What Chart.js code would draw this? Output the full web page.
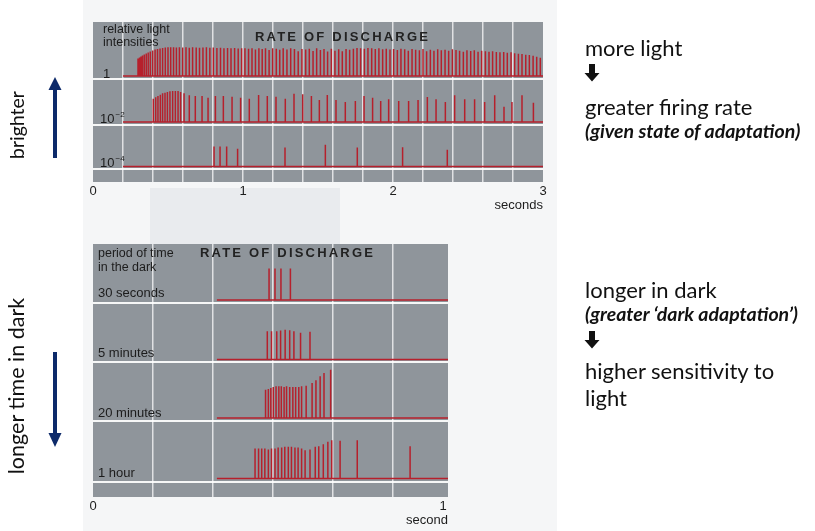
<!DOCTYPE html>
<html>
<head>
<meta charset="utf-8">
<script src="https://cdn.jsdelivr.net/npm/chart.js"></script>
<style>
body { margin: 0; background: #fff; }
#wrap { position: relative; width: 815px; height: 531px; overflow: hidden; font-family: "Liberation Sans", Arial, sans-serif; }
#paper { position: absolute; left: 83px; top: 0; width: 474px; height: 531px; background: #f5f6f7; }
#smudge { position: absolute; left: 150px; top: 188px; width: 190px; height: 56px; background: #e9ebee; }
canvas { position: absolute; left: 0; top: 0; }
.t { position: absolute; white-space: nowrap; line-height: 1; transform: translateY(-50%); color: #1c1c1c; z-index: 5; }
.small { font-size: 12.5px; }
.lvl { font-size: 13px; }
.lvl sup { font-size: 8px; vertical-align: 6px; margin-left: 1px; }
.head { font-size: 13px; font-weight: bold; letter-spacing: 2.2px; color: #222; }
.side { font-family: Lato, "Open Sans", sans-serif; font-size: 22px; color: #111; }
.note { font-family: Lato, "Open Sans", sans-serif; font-size: 19.5px; font-weight: bold; font-style: italic; color: #111; }
.rot { position: absolute; white-space: nowrap; line-height: 1; font-family: Lato, "Open Sans", sans-serif; font-size: 19.5px; color: #111;
       transform: translate(-50%, -50%) rotate(-90deg); z-index: 5; }
svg { position: absolute; z-index: 5; }
</style>
</head>
<body>
<div id="wrap">
  <div id="paper"></div>
  <div id="smudge"></div>
  <canvas id="topChart" width="815" height="531"></canvas>
  <canvas id="bottomChart" width="815" height="531"></canvas>

  <div class="t small" style="left:103px;top:29px">relative light</div>
  <div class="t small" style="left:103px;top:42px">intensities</div>
  <div class="t head" style="left:255px;top:36px">RATE OF DISCHARGE</div>
  <div class="t lvl" style="left:103px;top:73px">1</div>
  <div class="t lvl" style="left:100px;top:118px">10<sup>−2</sup></div>
  <div class="t lvl" style="left:100px;top:162px">10<sup>−4</sup></div>

  <div class="t small" style="left:98px;top:253px">period of time</div>
  <div class="t small" style="left:98px;top:267px">in the dark</div>
  <div class="t head" style="left:200px;top:252px">RATE OF DISCHARGE</div>
  <div class="t lvl" style="left:98px;top:292px">30 seconds</div>
  <div class="t lvl" style="left:98px;top:352px">5 minutes</div>
  <div class="t lvl" style="left:98px;top:412px">20 minutes</div>
  <div class="t lvl" style="left:98px;top:472px">1 hour</div>

  <div class="t side" style="left:585px;top:48px">more light</div>
  <svg style="left:584px;top:64px" width="16" height="18" viewBox="0 0 16 18">
    <path d="M5 0 H11 V9 H15.5 L8 17.5 L0.5 9 H5 Z" fill="#111"/>
  </svg>
  <div class="t side" style="left:585px;top:107px">greater firing rate</div>
  <div class="t note" style="left:585px;top:131px">(given state of adaptation)</div>

  <div class="t side" style="left:585px;top:290px">longer in dark</div>
  <div class="t note" style="left:585px;top:314px">(greater ‘dark adaptation’)</div>
  <svg style="left:584px;top:331px" width="16" height="18" viewBox="0 0 16 18">
    <path d="M5 0 H11 V9 H15.5 L8 17.5 L0.5 9 H5 Z" fill="#111"/>
  </svg>
  <div class="t side" style="left:585px;top:371px">higher sensitivity to</div>
  <div class="t side" style="left:585px;top:398px">light</div>

  <div class="rot" style="left:17px;top:125px">brighter</div>
  <div class="rot" style="left:17px;top:386px;font-size:21.5px">longer time in dark</div>
  <svg style="left:45px;top:76px" width="20" height="84" viewBox="0 0 20 84">
    <rect x="8" y="12" width="4" height="70" fill="#0d2a6a"/>
    <path d="M3.5 14 L10 1 L16.5 14 Z" fill="#0d2a6a"/>
  </svg>
  <svg style="left:45px;top:350px" width="20" height="100" viewBox="0 0 20 100">
    <rect x="8" y="2" width="4" height="84" fill="#0d2a6a"/>
    <path d="M3.5 83 L10 97 L16.5 83 Z" fill="#0d2a6a"/>
  </svg>
</div>

<script>
// ---- data: spike times (s) and spike heights ----

// top panel, light intensity 1
const brightTimes = [0.300, 0.310, 0.320, 0.330, 0.342, 0.355, 0.368, 0.382, 0.398, 0.414, 0.430, 0.447, 0.464, 0.482,
  0.500, 0.518, 0.537, 0.556, 0.576, 0.598, 0.620, 0.642, 0.664, 0.688, 0.710, 0.733, 0.756, 0.779, 0.802, 0.826,
  0.850, 0.873, 0.897, 0.920, 0.944, 0.968, 0.991, 1.013, 1.037, 1.060, 1.083, 1.106, 1.128, 1.150, 1.174, 1.198,
  1.222, 1.245, 1.268, 1.293, 1.318, 1.343, 1.368, 1.393, 1.418, 1.442, 1.467, 1.491, 1.516, 1.540, 1.564, 1.589,
  1.613, 1.638, 1.662, 1.687, 1.711, 1.736, 1.760, 1.784, 1.809, 1.833, 1.858, 1.882, 1.906, 1.931, 1.955, 1.980,
  2.004, 2.029, 2.053, 2.078, 2.102, 2.127, 2.151, 2.176, 2.200, 2.224, 2.249, 2.273, 2.298, 2.322, 2.347, 2.371,
  2.396, 2.420, 2.444, 2.469, 2.493, 2.518, 2.542, 2.567, 2.591, 2.616, 2.640, 2.664, 2.689, 2.713, 2.738, 2.762,
  2.787, 2.811, 2.836, 2.860, 2.885, 2.909, 2.934, 2.958, 2.982];
const brightHeights = [17.5, 18.5, 19.5, 20.5, 21.5, 22.5, 23.5, 24.5, 25.5, 26.5, 27, 27.5, 28, 28.5,
  28.7, 28.7, 28.7, 28.5, 28.7, 28.5, 28.7, 28.3, 28.7, 28.5, 28.3, 28.5, 28.7, 28.3, 28.5, 28,
  28.3, 27.7, 28, 27.7, 28, 27.5, 27.7, 27.7, 27.3, 27.7, 26.5, 27.7, 27, 27.7, 26, 27.7,
  27.3, 26.3, 27.7, 26.5, 27.7, 27, 24.7, 27, 26.5, 27.3, 25, 27.7, 26, 27, 24.5, 27.3,
  25.3, 26.7, 24.7, 27, 26.3, 27.3, 28, 27.7, 27.3, 28, 27.7, 27, 27.7, 26.7, 27.3, 26.5,
  27, 26, 27.3, 26.7, 25.3, 27, 26.3, 25.7, 27, 24.7, 26.3, 25.3, 26.7, 25.7, 26.3, 25.3,
  26.7, 26, 25.3, 24.3, 25.7, 25, 25.7, 24.3, 25.3, 24.7, 24.3, 24.7, 24, 23.7, 24, 23.3,
  23.7, 22.7, 22.3, 22, 21.3, 21, 20.3, 19.3, 18.3];

// top panel, light intensity 10^-2
const midTimes = [0.402, 0.418, 0.433, 0.449, 0.464, 0.480, 0.496, 0.513, 0.531, 0.549, 0.567, 0.584, 0.607, 0.642,
  0.682, 0.727, 0.767, 0.816, 0.869, 0.927, 0.984, 1.042, 1.104, 1.162, 1.220, 1.282, 1.340, 1.398, 1.456, 1.509,
  1.562, 1.620, 1.682, 1.749, 1.807, 1.864, 1.918, 1.971, 2.038, 2.104, 2.167, 2.229, 2.287, 2.349, 2.411, 2.478,
  2.544, 2.611, 2.678, 2.740, 2.793, 2.860, 2.936];
const midHeights = [23.3, 24.7, 26, 27.3, 28.7, 29.3, 30, 30.7, 31, 31, 31, 30, 28.7, 26.7,
  26, 26, 24.3, 26, 26, 25.3, 24.3, 23.3, 27, 26, 25.3, 23.3, 28.3, 27.7, 26, 22,
  27, 22, 20, 21, 26, 24.3, 21, 22.7, 21, 21, 22, 25, 22.7, 20, 26.7, 22.7,
  22.7, 20, 26.7, 15.3, 20, 26.7, 19.3];

// top panel, light intensity 10^-4
const dimTimes = [0.807, 0.847, 0.891, 0.964, 1.280, 1.549, 1.762, 2.064, 2.362];
const dimHeights = [20, 20, 20, 17.7, 19, 21.7, 19, 19.3, 16.7];

// bottom panel, time in the dark
const dark30sTimes = [0.503, 0.520, 0.537, 0.564];
const dark30sHeights = [31.5, 31.5, 31.5, 31.5];
const dark5mTimes = [0.498, 0.510, 0.525, 0.536, 0.549, 0.562, 0.574, 0.593, 0.620];
const dark5mHeights = [28.3, 28.3, 28.3, 29, 29.7, 29.3, 28.3, 26.7, 27.7];
const dark20mTimes = [0.493, 0.501, 0.508, 0.515, 0.523, 0.531, 0.538, 0.546, 0.553, 0.562,
  0.571, 0.579, 0.588, 0.596, 0.609, 0.626, 0.637, 0.649, 0.660, 0.679];
const dark20mHeights = [28.3, 29, 30, 31, 31.7, 31.7, 31.7, 31, 31.7, 31,
  31, 31, 31, 31.7, 32.3, 35, 37.7, 41.7, 45, 48.3];
const dark1hTimes = [0.463, 0.473, 0.482, 0.491, 0.501, 0.510, 0.520, 0.529, 0.539, 0.548, 0.558, 0.567, 0.577,
  0.586, 0.596, 0.606, 0.620, 0.635, 0.645, 0.658, 0.671, 0.682, 0.706, 0.755, 0.906];
const dark1hHeights = [30, 30, 30, 30, 29, 30, 30, 31, 31, 31.7, 31.7, 31.7, 31,
  31, 30, 28.3, 29, 31.7, 32.3, 34.3, 36.7, 38.3, 37.7, 38.3, 32.3];

// axis ticks
const topTickLabels = ['0', '1', '2', '3'];
const bottomTickSeconds = [0, 1];
const bottomGridSeconds = [0.171, 0.343, 0.514, 0.686, 0.857];

// ---- layout / style ----
const PANEL_GREY = '#8f959b';
const SPIKE_RED = 'rgb(182, 32, 44)';
const SEP_WHITE = 'rgba(255,255,255,0.92)';
const GRID_WHITE = 'rgba(255,255,255,0.72)';

Chart.defaults.font.family = '"Liberation Sans", Arial, sans-serif';
Chart.defaults.color = '#1c1c1c';

// grey panel behind the plot area
const panelBg = {
    id: 'panelBg',
    beforeDraw(chart) {
        const a = chart.chartArea;
        chart.ctx.save();
        chart.ctx.fillStyle = PANEL_GREY;
        chart.ctx.fillRect(a.left, a.top, a.right - a.left, a.bottom - a.top);
        chart.ctx.restore();
    }
};

// one trace: flat baseline with a vertical stroke up and down for each spike
function trace(times, heights, start, end, base) {
    const pts = [{ x: start, y: base }];
    times.forEach((t, i) => {
        pts.push({ x: t, y: base }, { x: t, y: base + heights[i] }, { x: t, y: base });
    });
    pts.push({ x: end, y: base });
    return pts;
}

function traceDataset(points) {
    return {
        data: points,
        borderColor: SPIKE_RED,
        borderWidth: 1.5,
        pointRadius: 0,
        tension: 0,
        fill: false
    };
}

function makeChart(id, cfg) {
    return new Chart(document.getElementById(id), {
        type: 'line',
        data: { datasets: cfg.datasets },
        options: {
            responsive: false,
            animation: false,
            events: [],
            layout: { padding: cfg.padding },
            plugins: { legend: { display: false }, tooltip: { enabled: false } },
            scales: {
                x: {
                    type: 'linear',
                    min: 0,
                    max: cfg.xMax,
                    afterBuildTicks: cfg.xTicks,
                    afterFit: s => { s.height = 31; },
                    ticks: { callback: cfg.xLabel, autoSkip: false, maxRotation: 0, padding: 2,
                             font: { size: 13 }, color: '#1c1c1c' },
                    grid: { color: cfg.xGridColor, lineWidth: 1.5, drawTicks: false },
                    border: { display: false },
                    title: { display: true, text: cfg.xTitle, align: 'end', padding: 0,
                             font: { size: 13 }, color: '#1c1c1c' }
                },
                y: {
                    min: 0,
                    max: cfg.yMax,
                    afterBuildTicks: s => { s.ticks = cfg.separators.map(v => ({ value: v })); },
                    afterFit: s => { s.width = 0; },
                    ticks: { display: false },
                    grid: { color: SEP_WHITE, lineWidth: 2, drawTicks: false },
                    border: { display: false }
                }
            }
        },
        plugins: [panelBg]
    });
}

// top panel: 0..3 s, strips separated by white lines (values = px above panel bottom)
const topSeps = [103, 57, 13];
makeChart('topChart', {
    padding: { left: 93, top: 22, right: 815 - 543, bottom: 531 - 182 - 31 },
    xMax: 3,
    yMax: 160,
    separators: topSeps,
    xTicks: s => {
        const t = [];
        for (let k = 0; k <= 15; k++) t.push({ value: k * 0.2 });
        s.ticks = t;
    },
    xLabel: v => {
        const r = Math.round(v);
        return Math.abs(v - r) < 1e-6 ? topTickLabels[r] : '';
    },
    xGridColor: c => (c.tick && (Math.abs(c.tick.value) < 1e-6 || Math.abs(c.tick.value - 3) < 1e-6)) ? 'transparent' : GRID_WHITE,
    xTitle: 'seconds',
    datasets: [
        traceDataset(trace(brightTimes, brightHeights, 0.2, 3, topSeps[0] + 3)),
        traceDataset(trace(midTimes, midHeights, 0.2, 3, topSeps[1] + 3)),
        traceDataset(trace(dimTimes, dimHeights, 0.2, 3, topSeps[2] + 2.5))
    ]
});

// bottom panel: 0..1 s
const bottomSeps = [194, 135, 76, 15];
const bottomMax = 355 / 350;
makeChart('bottomChart', {
    padding: { left: 93, top: 244, right: 815 - 448, bottom: 531 - 497 - 31 },
    xMax: bottomMax,
    yMax: 253,
    separators: bottomSeps,
    xTicks: s => {
        s.ticks = bottomTickSeconds.concat(bottomGridSeconds).sort((a, b) => a - b).map(v => ({ value: v }));
    },
    xLabel: v => bottomTickSeconds.includes(v) ? String(v) : '',
    xGridColor: c => (c.tick && bottomGridSeconds.includes(c.tick.value)) ? GRID_WHITE : 'transparent',
    xTitle: 'second',
    datasets: [
        traceDataset(trace(dark30sTimes, dark30sHeights, 0.354, bottomMax, bottomSeps[0] + 3)),
        traceDataset(trace(dark5mTimes, dark5mHeights, 0.354, bottomMax, bottomSeps[1] + 2.5)),
        traceDataset(trace(dark20mTimes, dark20mHeights, 0.354, bottomMax, bottomSeps[2] + 3)),
        traceDataset(trace(dark1hTimes, dark1hHeights, 0.354, bottomMax, bottomSeps[3] + 3.5))
    ]
});
</script>
</body>
</html>
